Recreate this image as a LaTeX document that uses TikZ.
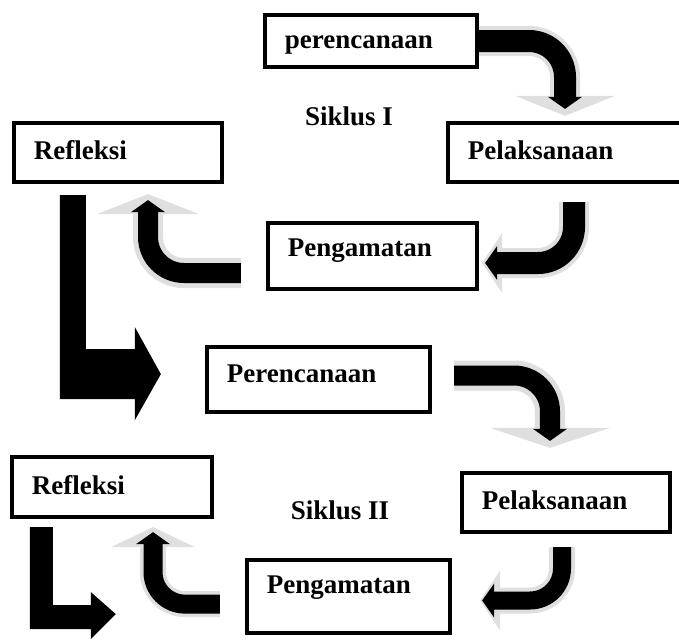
\documentclass[tikz,border=0pt]{standalone}
\usepackage{fontspec}
\setmainfont{Liberation Serif}
\usetikzlibrary{arrows.meta,calc}

\tikzset{
  kotak/.style={rectangle,draw,line width=3pt,fill=white,align=left,inner xsep=0.5cm,inner ysep=0pt,
    text height=0.5cm,text depth=0.15cm,font=\bfseries\fontsize{19.2}{23}\selectfont},
  judul/.style={font=\bfseries\fontsize{19.2}{23}\selectfont},
  abu/.style={draw=gray!25,line width=0.75cm,rounded corners=0.9cm,
    -{Triangle[width=#1,length=0.5cm,line width=0pt]}},
  hitam/.style={draw=black,line width=0.55cm,rounded corners=0.9cm,
    -{Triangle[width=0.85cm,length=0.3cm,line width=0pt]}}
}

\begin{document}
\begin{tikzpicture}[x=0.025cm,y=-0.025cm]
\useasboundingbox (0,0) rectangle (679,640);
\clip (0,0) rectangle (679,640);
\path (371,41) node(per1)[kotak,text width=4.3cm,minimum height=1.3cm]{perencanaan}
(565,152.5) node(pel1)[kotak,text width=4.85cm,minimum height=1.475cm]{Pelaksanaan}
(118,152.5) node(ref1)[kotak,text width=4.2cm,minimum height=1.475cm]{Refleksi}
(372.5,256) node(peng1)[kotak,text width=4.225cm,minimum height=1.65cm,text depth=0.5cm]{Pengamatan}
(349,116) node(sik1)[judul]{Siklus I};
\path (318.5,379.5) node(per2)[kotak,text width=4.575cm,minimum height=1.625cm,text depth=0.35cm]{Perencanaan}
(566,502.5) node(pel2)[kotak,text width=4.2cm,minimum height=1.475cm]{Pelaksanaan}
(112,487) node(ref2)[kotak,text width=4cm,minimum height=1.5cm]{Refleksi}
(348.5,596.5) node(peng2)[kotak,text width=4.075cm,minimum height=1.825cm,text depth=0.65cm]{Pengamatan}
(340,510) node(sik2)[judul]{Siklus II};

% siklus I
\draw[abu=2.5cm,shorten >=0.125cm] (per1.east) -| (pel1.north);
\draw[hitam,shorten >=0.3cm] (per1.east) -| (pel1.north);
\draw[abu=1.5cm,shorten <=0.45cm,shorten >=0.075cm] ([xshift=0.225cm]pel1.south) |- ([yshift=-0.175cm]peng1.east);
\draw[hitam,shorten <=0.45cm,shorten >=0.15cm] ([xshift=0.225cm]pel1.south) |- ([yshift=-0.175cm]peng1.east);
\draw[abu=2.55cm,shorten <=0.625cm,shorten >=0.25cm] ([yshift=-0.425cm]peng1.west) -| ([xshift=0.75cm]ref1.south);
\draw[hitam,line width=0.5cm,shorten <=0.625cm,shorten >=0.4cm] ([yshift=-0.425cm]peng1.west) -| ([xshift=0.75cm]ref1.south);
\fill ($(ref1.south west)+(48,11)$) -- ++(26,0) -- ++(0,154) -- ++(49,0) -- ++(0,-22)
  -- ++(26,47) -- ++(-26,46) -- ++(0,-21) -- ++(-75,0) -- cycle;

% siklus II
\draw[abu=3cm,shorten <=0.55cm,shorten >=0.575cm] ([yshift=0.1cm]per2.east) -| ([xshift=-0.4cm]pel2.north);
\draw[hitam,line width=0.5cm,shorten <=0.55cm,shorten >=0.75cm] ([yshift=0.1cm]per2.east) -| ([xshift=-0.4cm]pel2.north);
\draw[abu=1.5cm,line width=0.65cm,rounded corners=0.8cm,shorten <=0.325cm,shorten >=0.7cm] ([xshift=-0.1cm]pel2.south) |- ([yshift=-0.1cm]peng2.east);
\draw[hitam,line width=0.45cm,rounded corners=0.8cm,shorten <=0.325cm,shorten >=0.75cm] ([xshift=-0.1cm]pel2.south) |- ([yshift=-0.1cm]peng2.east);
\draw[abu=2.1cm,line width=0.65cm,rounded corners=0.8cm,shorten <=0.625cm,shorten >=0.2cm] ([yshift=-0.19cm]peng2.west) -| ([xshift=1.025cm]ref2.south);
\draw[hitam,line width=0.475cm,rounded corners=0.8cm,shorten <=0.625cm,shorten >=0.325cm] ([yshift=-0.19cm]peng2.west) -| ([xshift=1.025cm]ref2.south);
\fill ($(ref2.south west)+(20,8)$) -- ++(23,0) -- ++(0,78) -- ++(38,0) -- ++(0,-13)
  -- ++(25,22) -- ++(-25,25) -- ++(0,-10) -- ++(-61,0) -- cycle;
\end{tikzpicture}
\end{document}
